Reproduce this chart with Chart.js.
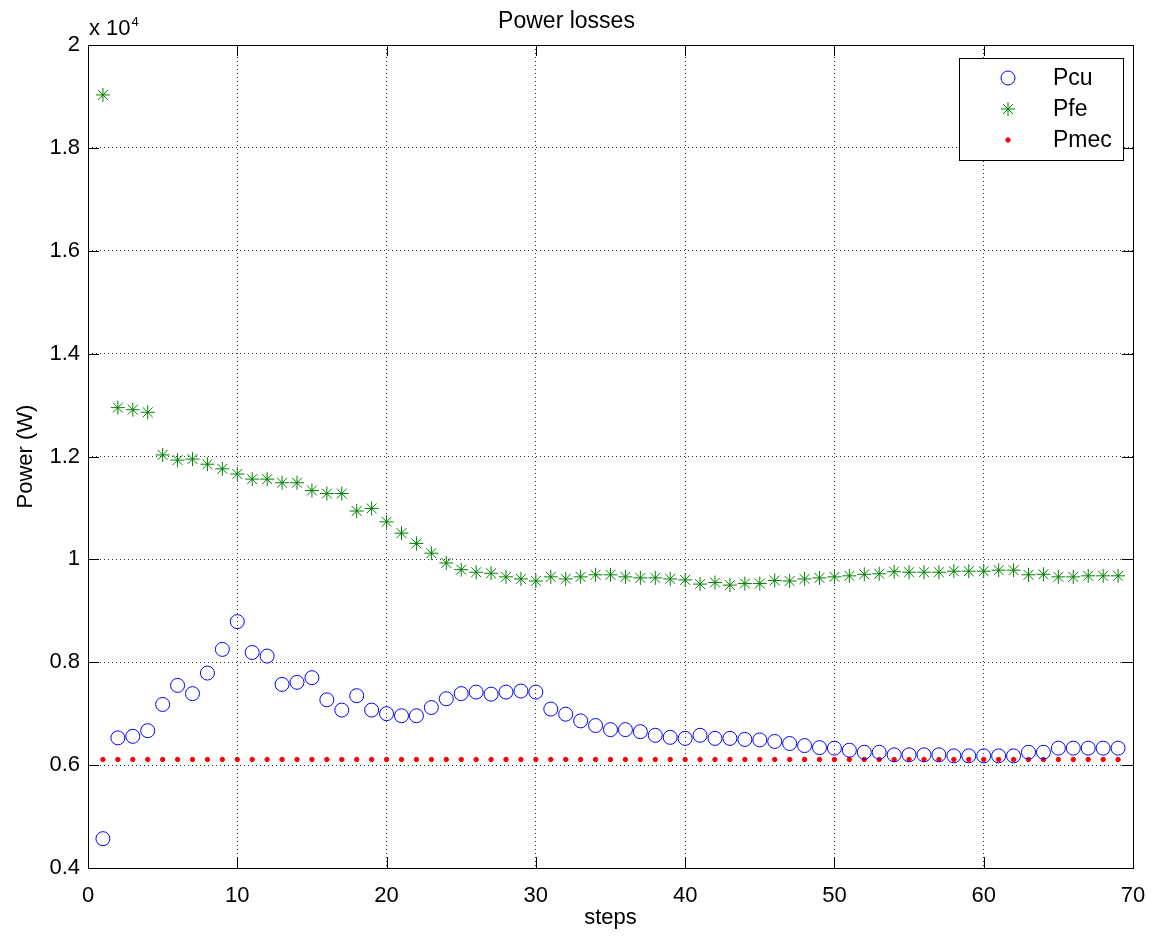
<!DOCTYPE html>
<html>
<head>
<meta charset="utf-8">
<title>Power losses</title>
<script src="https://cdn.jsdelivr.net/npm/chart.js@4.4.1/dist/chart.umd.min.js"></script>
<style>
  html, body { margin: 0; padding: 0; background: #fff; }
  #wrap { width: 1164px; height: 940px; }
</style>
</head>
<body>
<div id="wrap"><canvas id="lossChart" width="1164" height="940"></canvas></div>
<script>
// --- data (W) ---
const steps = [1, 2, 3, 4, 5, 6, 7, 8, 9, 10, 11, 12, 13, 14, 15, 16, 17, 18, 19, 20,
  21, 22, 23, 24, 25, 26, 27, 28, 29, 30, 31, 32, 33, 34, 35, 36, 37, 38, 39, 40,
  41, 42, 43, 44, 45, 46, 47, 48, 49, 50, 51, 52, 53, 54, 55, 56, 57, 58, 59, 60,
  61, 62, 63, 64, 65, 66, 67, 68, 69];

const pcu = [4570, 6530, 6560, 6670, 7180, 7550, 7390, 7790, 8250, 8790,
  8190, 8120, 7570, 7610, 7700, 7270, 7070, 7350, 7070, 7000,
  6960, 6960, 7120, 7290, 7390, 7420, 7380, 7420, 7440, 7420,
  7090, 6990, 6860, 6770, 6690, 6690, 6650, 6580, 6540, 6520,
  6580, 6520, 6520, 6500, 6490, 6460, 6420, 6380, 6340, 6330,
  6290, 6250, 6250, 6200, 6200, 6200, 6200, 6180, 6180, 6180,
  6180, 6180, 6250, 6250, 6330, 6330, 6330, 6330, 6330];

const pfe = [19030, 12950, 12910, 12860, 12030, 11930, 11950, 11850, 11760, 11660,
  11560, 11560, 11490, 11490, 11340, 11280, 11280, 10940, 10990, 10730,
  10510, 10310, 10120, 9930, 9800, 9750, 9730, 9660, 9620, 9580,
  9660, 9620, 9660, 9700, 9700, 9660, 9640, 9640, 9620, 9600,
  9520, 9550, 9500, 9530, 9530, 9590, 9580, 9620, 9640, 9660,
  9680, 9710, 9720, 9760, 9750, 9750, 9750, 9770, 9770, 9770,
  9790, 9790, 9700, 9710, 9660, 9660, 9680, 9680, 9680];

const pmec = [6110, 6110, 6110, 6110, 6110, 6110, 6110, 6110, 6110, 6110,
  6110, 6110, 6110, 6110, 6110, 6110, 6110, 6110, 6110, 6110,
  6110, 6110, 6110, 6110, 6110, 6110, 6110, 6110, 6110, 6110,
  6110, 6110, 6110, 6110, 6110, 6110, 6110, 6110, 6110, 6110,
  6110, 6110, 6110, 6110, 6110, 6110, 6110, 6110, 6110, 6110,
  6110, 6110, 6110, 6110, 6110, 6110, 6110, 6110, 6110, 6110,
  6110, 6110, 6110, 6110, 6110, 6110, 6110, 6110, 6110];

const seriesNames = ['Pcu', 'Pfe', 'Pmec'];
const xTicks = [0, 10, 20, 30, 40, 50, 60, 70];
const xTickLabels = ['0', '10', '20', '30', '40', '50', '60', '70'];
const yTicks = [4000, 6000, 8000, 10000, 12000, 14000, 16000, 18000, 20000];
const yTickLabels = ['0.4', '0.6', '0.8', '1', '1.2', '1.4', '1.6', '1.8', '2'];

const FONT = "'Liberation Sans', Arial, Helvetica, sans-serif";

function toPoints(vals) {
    return steps.map((s, i) => ({ x: s, y: vals[i] }));
}

// marker for the legend (same look as the dataset points)
function drawMarker(ctx, ds, x, y) {
    const r = ds.pointRadius;
    ctx.save();
    ctx.lineWidth = ds.pointBorderWidth;
    ctx.strokeStyle = ds.pointBorderColor;
    ctx.fillStyle = ds.pointBackgroundColor;
    ctx.beginPath();
    if (ds.pointStyle === 'star') {
        const d = Math.cos(Math.PI / 4) * r;
        ctx.moveTo(x - r, y); ctx.lineTo(x + r, y);
        ctx.moveTo(x, y - r); ctx.lineTo(x, y + r);
        ctx.moveTo(x - d, y - d); ctx.lineTo(x + d, y + d);
        ctx.moveTo(x - d, y + d); ctx.lineTo(x + d, y - d);
        ctx.stroke();
    } else {
        ctx.arc(x, y, r, 0, Math.PI * 2);
        ctx.fill();
        ctx.stroke();
    }
    ctx.restore();
}

// matlab style box: frame, inward ticks on 4 sides, exponent label, legend
const matlabFrame = {
    id: 'matlabFrame',
    afterDatasetsDraw(chart) {
        const { ctx, chartArea: a, scales } = chart;
        const tl = 11;
        ctx.save();
        ctx.strokeStyle = '#000';
        ctx.lineWidth = 1;
        ctx.beginPath();
        scales.x.ticks.forEach(t => {
            const px = Math.round(scales.x.getPixelForValue(t.value)) + 0.5;
            ctx.moveTo(px, a.bottom); ctx.lineTo(px, a.bottom - tl);
            ctx.moveTo(px, a.top); ctx.lineTo(px, a.top + tl);
        });
        scales.y.ticks.forEach(t => {
            const py = Math.round(scales.y.getPixelForValue(t.value)) + 0.5;
            ctx.moveTo(a.left, py); ctx.lineTo(a.left + tl, py);
            ctx.moveTo(a.right, py); ctx.lineTo(a.right - tl, py);
        });
        ctx.stroke();
        ctx.strokeRect(Math.round(a.left) + 0.5, Math.round(a.top) + 0.5,
            Math.round(a.right - a.left), Math.round(a.bottom - a.top));

        // x 10^4
        ctx.fillStyle = '#000';
        ctx.textBaseline = 'alphabetic';
        ctx.textAlign = 'left';
        ctx.font = '22px ' + FONT;
        ctx.fillText('x 10', a.left + 1, a.top - 10);
        const w = ctx.measureText('x 10').width;
        ctx.font = '13px ' + FONT;
        ctx.fillText('4', a.left + 2 + w, a.top - 19);
        ctx.restore();
    },
    afterDraw(chart) {
        const { ctx, chartArea: a } = chart;
        const bw = 164, bh = 102;
        const bx = a.right - 10 - bw, by = a.top + 13;
        ctx.save();
        ctx.fillStyle = '#fff';
        ctx.fillRect(bx, by, bw, bh);
        ctx.strokeStyle = '#000';
        ctx.lineWidth = 1;
        ctx.strokeRect(Math.round(bx) + 0.5, Math.round(by) + 0.5, bw, bh);
        ctx.font = '23px ' + FONT;
        ctx.fillStyle = '#000';
        ctx.textBaseline = 'middle';
        ctx.textAlign = 'left';
        chart.data.datasets.forEach((ds, i) => {
            const ry = by + 20 + i * 31;
            drawMarker(ctx, ds, bx + 49, ry);
            ctx.fillText(ds.label, bx + 94, ry + 1);
        });
        ctx.restore();
    }
};

new Chart(document.getElementById('lossChart'), {
    type: 'scatter',
    data: {
        datasets: [
            {
                label: seriesNames[0],
                data: toPoints(pcu),
                pointStyle: 'circle',
                pointRadius: 7,
                pointBorderWidth: 1,
                pointBorderColor: 'rgb(0, 0, 255)',
                pointBackgroundColor: 'rgba(0, 0, 0, 0)'
            },
            {
                label: seriesNames[1],
                data: toPoints(pfe),
                pointStyle: 'star',
                pointRadius: 7,
                pointBorderWidth: 1,
                pointBorderColor: 'rgb(0, 128, 0)',
                pointBackgroundColor: 'rgb(0, 128, 0)'
            },
            {
                label: seriesNames[2],
                data: toPoints(pmec),
                pointStyle: 'circle',
                pointRadius: 2.2,
                pointBorderWidth: 1,
                pointBorderColor: 'rgb(255, 0, 0)',
                pointBackgroundColor: 'rgb(255, 0, 0)'
            }
        ]
    },
    options: {
        responsive: false,
        animation: false,
        events: [],
        layout: { padding: { left: 0, right: 31, top: 0, bottom: 0 } },
        plugins: {
            legend: { display: false },
            tooltip: { enabled: false },
            title: {
                display: true,
                text: 'Power losses',
                color: '#000',
                font: { family: FONT, size: 23, weight: 'normal' },
                padding: { top: 8, bottom: 9.4 }
            }
        },
        scales: {
            x: {
                type: 'linear',
                min: 0,
                max: 70,
                afterBuildTicks: s => { s.ticks = xTicks.map(v => ({ value: v })); },
                afterFit: s => { s.height = 72; },
                ticks: {
                    color: '#000',
                    font: { family: FONT, size: 22 },
                    padding: 15,
                    maxRotation: 0,
                    callback: (v, i) => xTickLabels[i]
                },
                grid: { color: 'rgba(0, 0, 0, 0.8)', lineWidth: 1, drawTicks: false },
                border: { display: false, dash: [1, 3] },
                title: {
                    display: true,
                    text: 'steps',
                    color: '#000',
                    font: { family: FONT, size: 22 },
                    padding: { top: 0, bottom: 9 }
                }
            },
            y: {
                type: 'linear',
                min: 4000,
                max: 20000,
                afterBuildTicks: s => { s.ticks = yTicks.map(v => ({ value: v })); },
                afterFit: s => { s.width = 88; },
                ticks: {
                    color: '#000',
                    font: { family: FONT, size: 22 },
                    padding: 8,
                    callback: (v, i) => yTickLabels[i]
                },
                grid: { color: 'rgba(0, 0, 0, 0.8)', lineWidth: 1, drawTicks: false },
                border: { display: false, dash: [1, 3] },
                title: {
                    display: true,
                    text: 'Power (W)',
                    color: '#000',
                    font: { family: FONT, size: 22 },
                    padding: { top: 13, bottom: 0 }
                }
            }
        }
    },
    plugins: [matlabFrame]
});
</script>
</body>
</html>
